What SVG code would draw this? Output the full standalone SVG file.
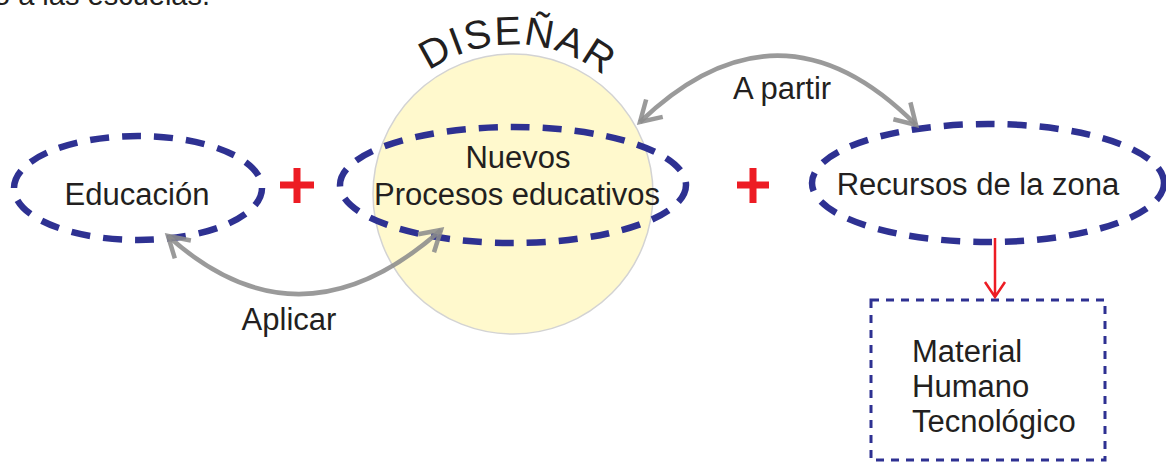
<svg xmlns="http://www.w3.org/2000/svg" width="1166" height="465" viewBox="0 0 1166 465">
<style>
text{font-family:"Liberation Sans",Arial,sans-serif;fill:#231F20}
.lbl{font-size:31px;text-anchor:middle}
.oval{fill:none;stroke:#2E3192;stroke-width:6.5;stroke-dasharray:19 13}
.plus{stroke:#ED1C24;stroke-width:7;fill:none}
.conn{fill:none;stroke:#8C8C8C;stroke-opacity:0.88;stroke-width:4.5}
</style>
<defs>
<marker id="ah" markerUnits="userSpaceOnUse" markerWidth="40" markerHeight="40" viewBox="-30 -20 40 40" refX="0" refY="0" orient="auto-start-reverse">
<path d="M-20,-12 L0,0 L-20,12" fill="none" stroke="#8C8C8C" stroke-opacity="0.88" stroke-width="4.5"/>
</marker>
<path id="arc" d="M384,121 A147,147 0 0 1 642,121"/>
</defs>
<rect width="1166" height="465" fill="#fff"/>
<text x="-6" y="5" font-size="29">o a las escuelas.</text>

<g id="disenar">
<circle cx="513" cy="194" r="140" fill="#FFF9CD" stroke="#D3D3D3" stroke-width="1.5"/>
<text font-size="40" letter-spacing="1.5" text-anchor="middle"><textPath href="#arc" startOffset="51.5%">DISEÑAR</textPath></text>
</g>

<g id="educacion">
<ellipse class="oval" cx="138" cy="188" rx="124" ry="52"/>
<text class="lbl" x="137" y="205">Educación</text>
</g>

<g id="plus1"><path class="plus" d="M280,185 H314 M297,168 V203"/></g>

<g id="nuevos">
<ellipse class="oval" cx="513" cy="185" rx="173" ry="58"/>
<text class="lbl" x="518" y="168">Nuevos</text>
<text class="lbl" x="517" y="205">Procesos educativos</text>
</g>

<g id="plus2"><path class="plus" d="M737,185 H769 M753,168 V203"/></g>

<g id="recursos">
<ellipse class="oval" cx="988" cy="183" rx="176" ry="59"/>
<text class="lbl" x="978" y="195">Recursos de la zona</text>
</g>

<g id="material">
<rect x="871" y="300" width="234" height="160" fill="none" stroke="#2E3192" stroke-width="3" stroke-dasharray="8 7"/>
<text x="912" y="362" font-size="31">Material</text>
<text x="912" y="397" font-size="31">Humano</text>
<text x="912" y="432" font-size="31">Tecnológico</text>
</g>

<g id="connectors">
<path class="conn" d="M168,236 Q300,355 441,230" marker-start="url(#ah)" marker-end="url(#ah)"/>
<path class="conn" d="M640,122 Q780,-12 916,125" marker-start="url(#ah)" marker-end="url(#ah)"/>
<path d="M995,238 V297 M985,282 L995,297 L1005,282" fill="none" stroke="#ED1C24" stroke-width="2.5"/>
<text class="lbl" x="289" y="330">Aplicar</text>
<text class="lbl" x="782" y="99">A partir</text>
</g>
</svg>
